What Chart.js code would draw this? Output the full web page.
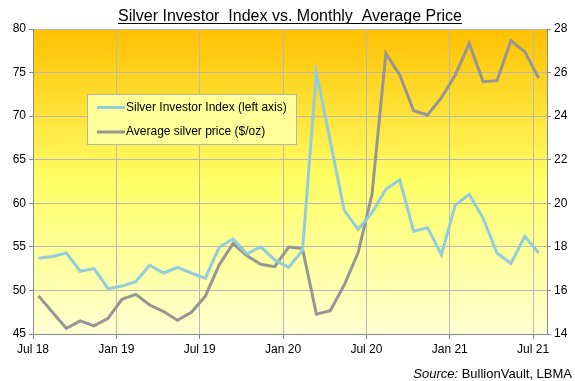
<!DOCTYPE html>
<html>
<head>
<meta charset="utf-8">
<script src="https://cdn.jsdelivr.net/npm/chart.js@4"></script>
<style>
  html, body { margin: 0; padding: 0; background: #fff; }
  #wrap { width: 575px; height: 381px; position: relative; }
</style>
</head>
<body>
<div id="wrap"><canvas id="grafico"></canvas></div>
<script>
// months plotted, one point per month
const months = ['Jul 18','Aug 18','Sep 18','Oct 18','Nov 18','Dec 18',
    'Jan 19','Feb 19','Mar 19','Apr 19','May 19','Jun 19',
    'Jul 19','Aug 19','Sep 19','Oct 19','Nov 19','Dec 19',
    'Jan 20','Feb 20','Mar 20','Apr 20','May 20','Jun 20',
    'Jul 20','Aug 20','Sep 20','Oct 20','Nov 20','Dec 20',
    'Jan 21','Feb 21','Mar 21','Apr 21','May 21','Jun 21','Jul 21'];

// Silver Investor Index (left axis)
const investorIndex = [53.7, 53.9, 54.3, 52.2, 52.5, 50.2, 50.5, 51.0, 52.9, 52.0,
    52.65, 52.0, 51.4, 54.95, 55.9, 54.2, 55.0, 53.5, 52.65, 54.6,
    75.0, 67.1, 59.2, 57.0, 58.9, 61.6, 62.7, 56.8, 57.2, 54.1,
    59.8, 61.0, 58.3, 54.3, 53.1, 56.2, 54.3];

// Average silver price, $/oz (right axis)
const silverPrice = [15.75, 15.0, 14.26, 14.6, 14.37, 14.72, 15.59, 15.82, 15.33, 15.03,
    14.63, 15.0, 15.73, 17.17, 18.15, 17.59, 17.2, 17.09, 17.99, 17.92,
    14.91, 15.07, 16.25, 17.73, 20.4, 26.88, 25.89, 24.25, 24.05, 24.85,
    25.89, 27.34, 25.58, 25.63, 27.46, 26.96, 25.74];

const tickLabels = ['Jul 18', 'Jan 19', 'Jul 19', 'Jan 20', 'Jul 20', 'Jan 21', 'Jul 21'];

const seriesNames = ['Silver Investor Index (left axis)', 'Average silver price ($/oz)'];

const FONT = '"Liberation Sans", Arial, sans-serif';
const COR_AZUL = '#92CDDC';
const COR_CINZA = '#969696';
const COR_GRADE = '#B8B8B8';
const COR_EIXO = '#888888';

// points sit a little into each month
const pontos = (valores) => valores.map((v, i) => ({ x: i + 0.4, y: v }));

// fundo em degradê da área do gráfico
const fundoPlugin = {
    id: 'fundo',
    beforeDraw(chart) {
        const { ctx, chartArea: a } = chart;
        const g = ctx.createLinearGradient(0, a.top, 0, a.bottom);
        g.addColorStop(0, '#FFC000');
        g.addColorStop(0.5, '#FFFF66');
        g.addColorStop(1, '#FFFFD2');
        ctx.save();
        ctx.fillStyle = g;
        ctx.fillRect(a.left, a.top, a.right - a.left, a.bottom - a.top);
        ctx.restore();
    }
};

// título sublinhado, fonte e legenda flutuante
const textosPlugin = {
    id: 'textos',
    afterDraw(chart) {
        const ctx = chart.ctx;
        ctx.save();

        // título
        const titulo = 'Silver Investor  Index vs. Monthly  Average Price';
        ctx.font = '16px ' + FONT;
        ctx.fillStyle = '#000';
        ctx.textAlign = 'center';
        ctx.textBaseline = 'alphabetic';
        ctx.fillText(titulo, 290, 21);
        const w = ctx.measureText(titulo).width;
        ctx.fillRect(290 - w / 2, 23, w, 1);

        // fonte
        ctx.textAlign = 'left';
        const src1 = 'Source:';
        const src2 = ' BullionVault, LBMA';
        ctx.font = '13px ' + FONT;
        const w2 = ctx.measureText(src2).width;
        ctx.font = 'italic 13px ' + FONT;
        const w1 = ctx.measureText(src1).width;
        const x0 = 572 - w1 - w2;
        ctx.fillText(src1, x0, 378);
        ctx.font = '13px ' + FONT;
        ctx.fillText(src2, x0 + w1, 378);

        // legenda
        ctx.fillStyle = '#FFFF99';
        ctx.fillRect(87.5, 94.5, 209, 50);
        ctx.strokeStyle = '#B4B4B4';
        ctx.lineWidth = 1;
        ctx.strokeRect(87.5, 94.5, 209, 50);

        const cores = [COR_AZUL, COR_CINZA];
        const ys = [107.5, 132];
        ctx.font = '12px ' + FONT;
        ctx.textBaseline = 'middle';
        seriesNames.forEach((nome, i) => {
            ctx.strokeStyle = cores[i];
            ctx.lineWidth = 3;
            ctx.beginPath();
            ctx.moveTo(97, ys[i]);
            ctx.lineTo(125, ys[i]);
            ctx.stroke();
            ctx.fillStyle = '#000';
            ctx.fillText(nome, 126, ys[i]);
        });

        ctx.restore();
    }
};

new Chart(document.getElementById('grafico'), {
    type: 'line',
    data: {
        datasets: [{
            label: seriesNames[0],
            data: pontos(investorIndex),
            borderColor: COR_AZUL,
            borderWidth: 3,
            pointRadius: 0,
            tension: 0,
            yAxisID: 'y'
        }, {
            label: seriesNames[1],
            data: pontos(silverPrice),
            borderColor: COR_CINZA,
            borderWidth: 3,
            pointRadius: 0,
            tension: 0,
            yAxisID: 'y1'
        }]
    },
    options: {
        responsive: true,
        maintainAspectRatio: false,
        animation: false,
        layout: { padding: { top: 29, left: 0, right: 0, bottom: 0 } },
        plugins: {
            legend: { display: false },
            title: { display: false },
            tooltip: { enabled: false }
        },
        scales: {
            x: {
                type: 'linear',
                min: 0,
                max: 37,
                afterBuildTicks: (axis) => {
                    axis.ticks = tickLabels.map((_, i) => ({ value: i * 6 }));
                },
                afterFit: (axis) => { axis.height = 47; },
                ticks: {
                    autoSkip: false,
                    maxRotation: 0,
                    padding: 3,
                    color: '#000',
                    font: { family: FONT, size: 12 },
                    callback: (v) => tickLabels[v / 6]
                },
                grid: { color: COR_GRADE, tickColor: COR_EIXO, tickLength: 5 },
                border: { color: COR_EIXO }
            },
            y: {
                position: 'left',
                min: 45,
                max: 80,
                afterFit: (axis) => { axis.width = 33; },
                ticks: {
                    stepSize: 5,
                    padding: 3,
                    color: '#000',
                    font: { family: FONT, size: 12 }
                },
                grid: { color: COR_GRADE, tickColor: COR_EIXO, tickLength: 4 },
                border: { color: COR_EIXO }
            },
            y1: {
                position: 'right',
                min: 14,
                max: 28,
                afterFit: (axis) => { axis.width = 28; },
                ticks: {
                    stepSize: 2,
                    padding: 3,
                    color: '#000',
                    font: { family: FONT, size: 12 }
                },
                grid: { drawOnChartArea: false, tickColor: COR_EIXO, tickLength: 4 },
                border: { color: COR_EIXO }
            }
        }
    },
    plugins: [fundoPlugin, textosPlugin]
});
</script>
</body>
</html>
